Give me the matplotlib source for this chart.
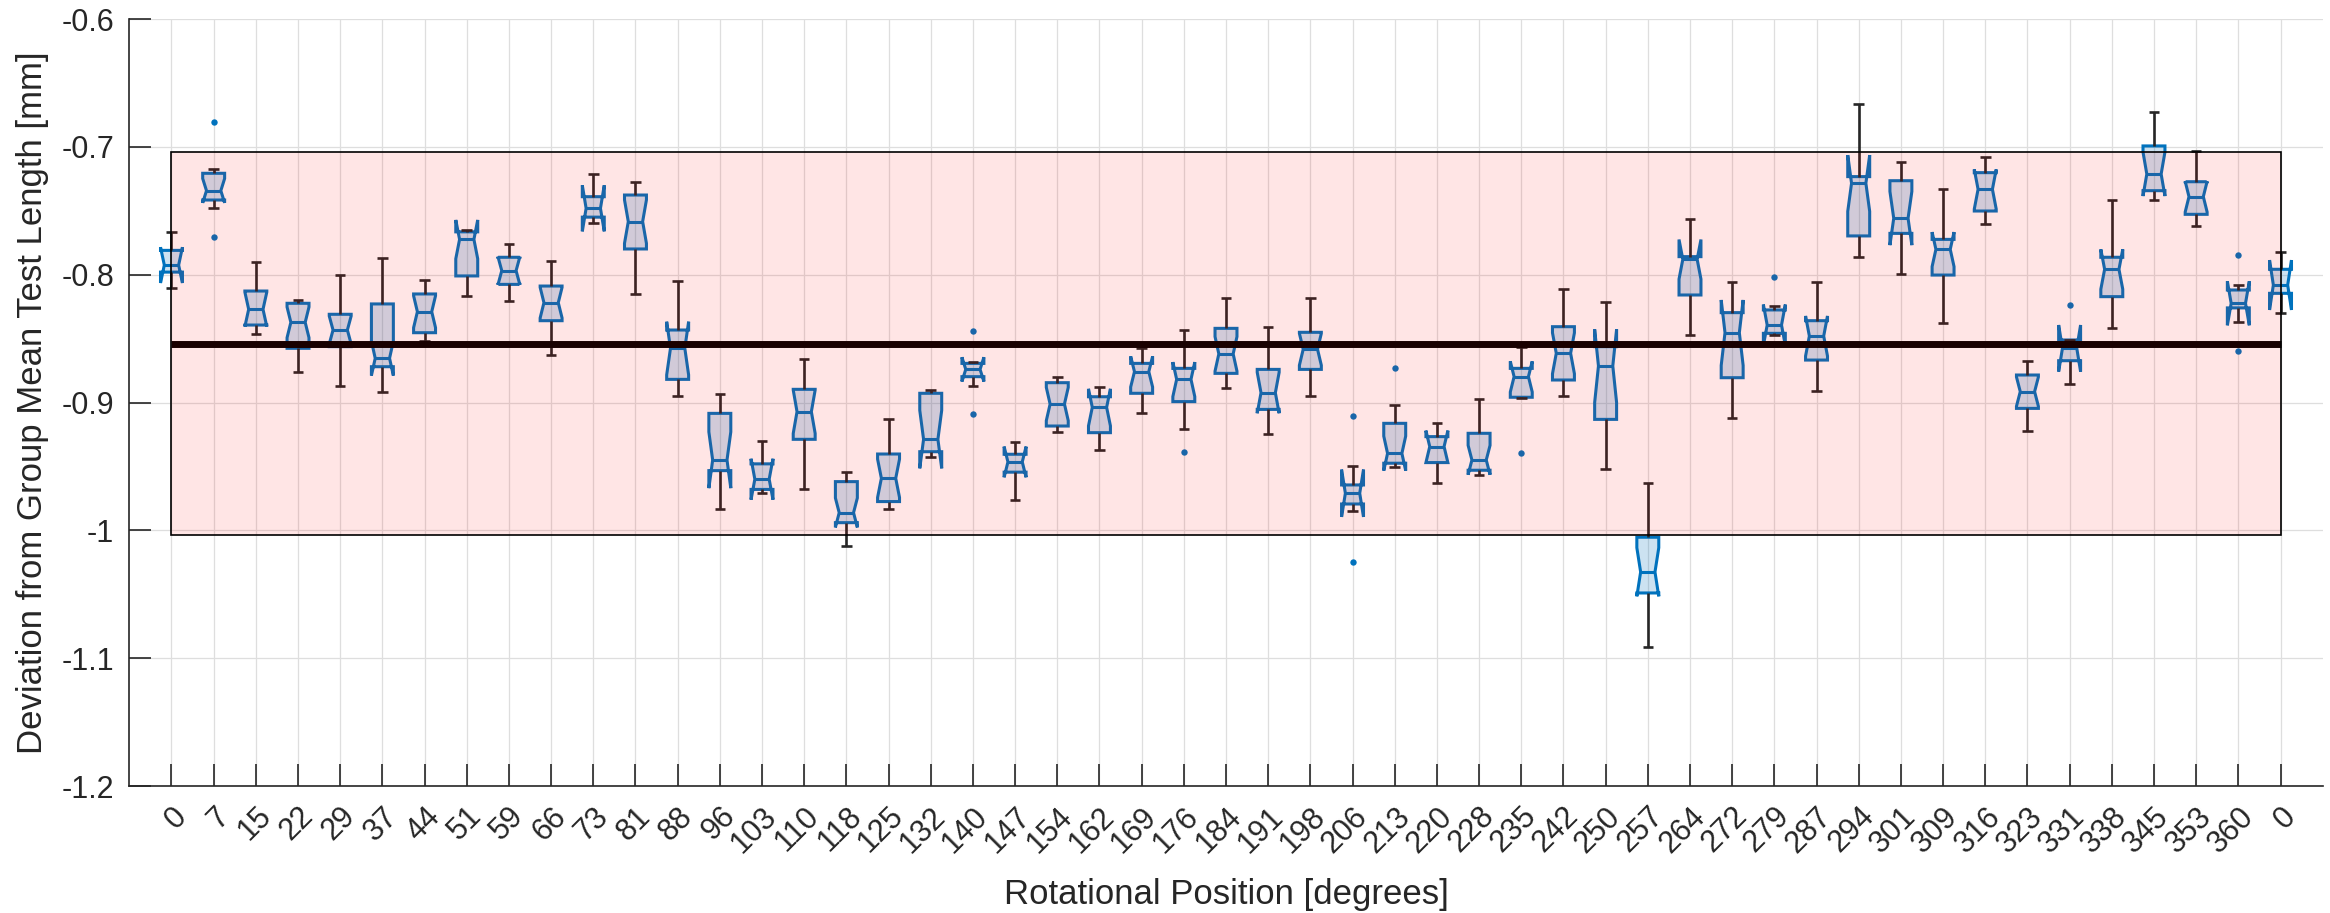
import matplotlib
matplotlib.use('Agg')
import matplotlib.pyplot as plt
from matplotlib.patches import Polygon, Rectangle

plt.rcParams['font.family'] = ['Liberation Sans', 'DejaVu Sans']

# ---------------- data ----------------
positions_deg = ['0', '7', '15', '22', '29', '37', '44', '51', '59', '66', '73', '81', '88',
                 '96', '103', '110', '118', '125', '132', '140', '147', '154', '162', '169',
                 '176', '184', '191', '198', '206', '213', '220', '228', '235', '242', '250',
                 '257', '264', '272', '279', '287', '294', '301', '309', '316', '323', '331',
                 '338', '345', '353', '360', '0']

whisker_hi = [-0.767, -0.7173, -0.7904, -0.8198, -0.8003, -0.7872, -0.8042, -0.765, -0.776, -0.7893,
              -0.7213, -0.7273, -0.8047, -0.8933, -0.9298, -0.8662, -0.9541, -0.9132, -0.8902, -0.868,
              -0.9306, -0.8798, -0.8881, -0.8571, -0.8433, -0.8185, -0.8412, -0.818, -0.9497, -0.902,
              -0.9158, -0.8975, -0.8563, -0.8112, -0.8211, -0.9632, -0.7565, -0.806, -0.8245, -0.806,
              -0.6665, -0.7116, -0.733, -0.7082, -0.8675, -0.8511, -0.7416, -0.6725, -0.7033, -0.8081,
              -0.7825]
q3 = [-0.781, -0.7207, -0.8128, -0.8224, -0.831, -0.8229, -0.8151, -0.7665, -0.7864, -0.8089,
      -0.739, -0.7377, -0.8433, -0.9085, -0.948, -0.8897, -0.9619, -0.9403, -0.8928, -0.8694,
      -0.9405, -0.8845, -0.8955, -0.8694, -0.8733, -0.842, -0.8741, -0.8451, -0.9645, -0.9163,
      -0.9267, -0.9241, -0.8733, -0.8407, -0.8563, -1.0054, -0.7859, -0.8297, -0.8276, -0.836,
      -0.7233, -0.7265, -0.7724, -0.7202, -0.8785, -0.8511, -0.7864, -0.6993, -0.7273, -0.812,
      -0.7958]
median = [-0.7925, -0.7343, -0.8271, -0.8373, -0.8433, -0.8654, -0.829, -0.7724, -0.7969, -0.8219,
          -0.7481, -0.7585, -0.8576, -0.945, -0.960, -0.9072, -0.9862, -0.9593, -0.9288, -0.8741,
          -0.9465, -0.9012, -0.9038, -0.8759, -0.8819, -0.862, -0.8924, -0.8584, -0.971, -0.9398,
          -0.9345, -0.945, -0.8798, -0.8615, -0.8714, -1.0326, -0.788, -0.8454, -0.8394, -0.848,
          -0.7285, -0.7559, -0.7802, -0.7332, -0.8915, -0.8576, -0.7958, -0.7213, -0.739, -0.8224,
          -0.8081]
q1 = [-0.798, -0.7416, -0.8394, -0.8576, -0.8563, -0.872, -0.8454, -0.801, -0.8076, -0.836,
      -0.755, -0.7799, -0.8819, -0.9533, -0.968, -0.9288, -0.994, -0.9775, -0.9385, -0.8798,
      -0.9545, -0.9184, -0.9236, -0.8928, -0.8993, -0.8772, -0.9054, -0.8741, -0.9794, -0.9475,
      -0.947, -0.953, -0.8959, -0.8824, -0.9132, -1.049, -0.8159, -0.8806, -0.8459, -0.8668,
      -0.7697, -0.7677, -0.8003, -0.7502, -0.9046, -0.8673, -0.8172, -0.7343, -0.7528, -0.826,
      -0.8146]
whisker_lo = [-0.8107, -0.7481, -0.8467, -0.8759, -0.8868, -0.8915, -0.8516, -0.8167, -0.8203, -0.8628,
              -0.7593, -0.8154, -0.8947, -0.9833, -0.971, -0.9679, -1.0122, -0.9836, -0.9429, -0.8868,
              -0.9763, -0.9228, -0.9371, -0.9085, -0.9209, -0.8889, -0.9249, -0.8947, -0.9849, -0.9507,
              -0.9632, -0.9567, -0.8966, -0.8947, -0.952, -1.0915, -0.8472, -0.9119, -0.8472, -0.8907,
              -0.7859, -0.7995, -0.8381, -0.7603, -0.9223, -0.8855, -0.8415, -0.7416, -0.7619, -0.8368,
              -0.8297]
notch_half = [0.014, 0.0095, 0.0135, 0.012, 0.011, 0.0135, 0.0125, 0.0152, 0.011, 0.012,
              0.018, 0.017, 0.0208, 0.022, 0.016, 0.017, 0.0115, 0.015, 0.0227, 0.0095,
              0.012, 0.013, 0.0145, 0.012, 0.0135, 0.0135, 0.016, 0.0125, 0.0185, 0.0135,
              0.0125, 0.0115, 0.012, 0.016, 0.0286, 0.019, 0.0155, 0.0256, 0.016, 0.0157,
              0.022, 0.021, 0.0135, 0.0155, 0.0115, 0.0182, 0.0156, 0.0172, 0.012, 0.0172,
              0.0195]
outliers = [[], [-0.6803, -0.7708], [], [], [], [], [], [], [], [],
            [], [], [], [], [], [], [], [], [], [-0.8441, -0.9093],
            [], [], [], [], [-0.939], [], [], [], [-0.9106, -1.0248], [-0.8728],
            [], [], [-0.9398], [], [], [], [], [], [-0.8021], [],
            [], [], [], [], [], [-0.8237], [], [], [], [-0.7846, -0.8597],
            []]

group_mean = -0.854
band_half = 0.15

y_ticks = [-1.2, -1.1, -1.0, -0.9, -0.8, -0.7, -0.6]
y_tick_labels = ['-1.2', '-1.1', '-1', '-0.9', '-0.8', '-0.7', '-0.6']

# ---------------- style ----------------
BLUE = '#0072BD'
TXT = '#262626'
BOX_HALF = 0.26
NOTCH_IN = 0.17
CAP_HALF = 0.125
BOX_LW = 2.2
WHISK_LW = 1.9

W, H = 2330, 913
fig = plt.figure(figsize=(W / 100, H / 100), dpi=100)
ax = fig.add_axes([129.3 / W, (H - 786) / H, 2193.4 / W, 767 / H])
ax.set_xlim(0, len(positions_deg) + 1)
ax.set_ylim(-1.2, -0.6)

for i in range(len(positions_deg)):
    x = i + 1
    nlo = median[i] - notch_half[i]
    nhi = median[i] + notch_half[i]
    L, R = x - BOX_HALF, x + BOX_HALF
    nL, nR = x - NOTCH_IN, x + NOTCH_IN
    verts = [(L, q1[i]), (L, nlo), (nL, median[i]), (L, nhi), (L, q3[i]),
             (R, q3[i]), (R, nhi), (nR, median[i]), (R, nlo), (R, q1[i])]
    ax.add_patch(Polygon(verts, closed=True, facecolor=(0, 0.447, 0.741, 0.2),
                         edgecolor=BLUE, lw=BOX_LW, joinstyle='miter', zorder=3))
    ax.plot([nL, nR], [median[i], median[i]], color=BLUE, lw=BOX_LW, zorder=4,
            solid_capstyle='butt')
    # whiskers
    ax.plot([x, x], [q3[i], whisker_hi[i]], color=TXT, lw=WHISK_LW, zorder=4, solid_capstyle='butt')
    ax.plot([x, x], [q1[i], whisker_lo[i]], color=TXT, lw=WHISK_LW, zorder=4, solid_capstyle='butt')
    ax.plot([x - CAP_HALF, x + CAP_HALF], [whisker_hi[i]] * 2, color=TXT, lw=WHISK_LW, zorder=4,
            solid_capstyle='butt')
    ax.plot([x - CAP_HALF, x + CAP_HALF], [whisker_lo[i]] * 2, color=TXT, lw=WHISK_LW, zorder=4,
            solid_capstyle='butt')
    if outliers[i]:
        ax.plot([x] * len(outliers[i]), outliers[i], 'o', color=BLUE, ms=4.6, mew=0, zorder=5)

n = len(positions_deg)
ax.plot([1, n], [group_mean, group_mean], color='black', lw=5.0, zorder=8, solid_capstyle='butt')
ax.add_patch(Rectangle((1, group_mean - band_half), n - 1, 2 * band_half,
                       facecolor=(1, 0, 0, 0.1), edgecolor='black', lw=1.2, zorder=10))

# axes styling
ax.set_xticks(range(1, n + 1))
ax.set_xticklabels(positions_deg, rotation=45, ha='right', va='top', rotation_mode='anchor')
ax.set_yticks(y_ticks)
ax.set_yticklabels(y_tick_labels)
ax.tick_params(axis='both', direction='in', length=16, width=1.2, color=TXT,
               labelsize=22, labelcolor=TXT)
ax.tick_params(axis='x', pad=11)
ax.tick_params(axis='y', pad=10.8)
for s in ['top', 'right']:
    ax.spines[s].set_visible(False)
for s in ['left', 'bottom']:
    ax.spines[s].set_color(TXT)
    ax.spines[s].set_linewidth(1.2)
ax.grid(True, color='#dedede', lw=0.9)
ax.set_axisbelow(True)

ax.set_xlabel('Rotational Position [degrees]', fontsize=25, color=TXT)
ax.xaxis.set_label_coords(0.5, (786 - 904) / 767)
ax.xaxis.label.set_va('baseline')
ax.set_ylabel('Deviation from Group Mean Test Length [mm]', fontsize=25, color=TXT)
ax.yaxis.set_label_coords((42 - 129.3) / 2193.4, 0.5)
ax.yaxis.label.set_rotation_mode('anchor')
ax.yaxis.label.set_va('baseline')
ax.yaxis.label.set_ha('center')

fig.savefig('out.png', dpi=100)
